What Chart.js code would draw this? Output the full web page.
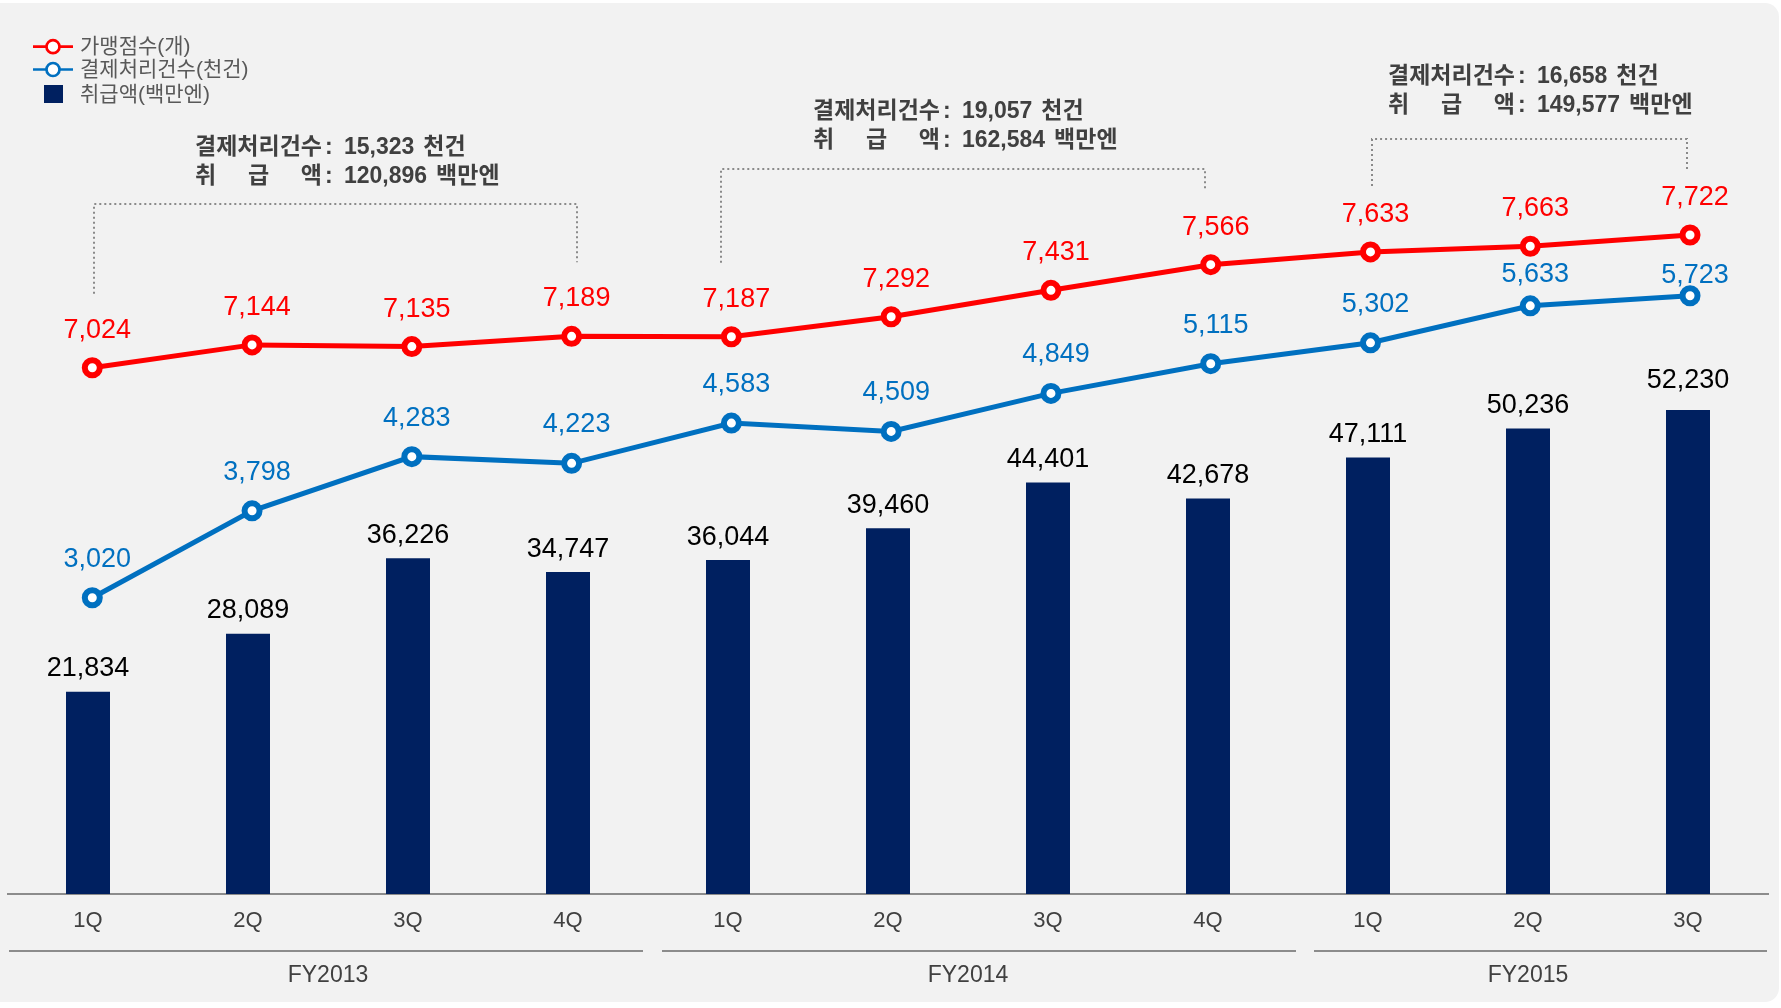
<!DOCTYPE html>
<html><head><meta charset="utf-8">
<script src="https://cdn.jsdelivr.net/npm/chart.js@4.4.1/dist/chart.umd.min.js"></script>
<style>html,body{margin:0;padding:0;background:#fff;}canvas{display:block;}</style>
</head><body>
<canvas id="c" width="1781" height="1008"></canvas>
<script>
// ---- data ----
const categories = ['1Q','2Q','3Q','4Q','1Q','2Q','3Q','4Q','1Q','2Q','3Q'];
const fiscalYears = ['FY2013','FY2014','FY2015'];
const fiscalYearFirst = [0, 4, 8];
const fiscalYearLast = [3, 7, 10];
const amountValues = [21834, 28089, 36226, 34747, 36044, 39460, 44401, 42678, 47111, 50236, 52230];
const merchantValues = [7024, 7144, 7135, 7189, 7187, 7292, 7431, 7566, 7633, 7663, 7722];
const txnValues = [3020, 3798, 4283, 4223, 4583, 4509, 4849, 5115, 5302, 5633, 5723];
const seriesNames = ['가맹점수(개)', '결제처리건수(천건)', '취급액(백만엔)'];
const yearTxnTotals = ['15,323', '19,057', '16,658'];
const yearAmountTotals = ['120,896', '162,584', '149,577'];

// ---- styles / layout ----
const FONT = '"Liberation Sans", "Noto Sans CJK KR", Arial, sans-serif';
const RED = '#ff0000', BLUE = '#0070c0', NAVY = '#002060', GRID = '#8c8c8c';
const annotLayout = [
  {tx:195, ty:148, bx:[6, 9],  top:204, bottomGap:[56, 56]},
  {tx:813, ty:112, bx:[-7,-3], top:169, bottomGap:[56, 58]},
  {tx:1388,ty:77,  bx:[4, -1], top:139, bottomGap:[48, 47]}
];
const groupInset = [[1,-5],[14,8],[26,-1]];
const barLabelLift = [0,0,0,0,0,0,0,0,0,0,7];
const txnLabelDrop = [0,0,0,0,0,0,0,0,0,7,18];
const fmt = v => v.toLocaleString('en-US');
const toXY = arr => arr.map((v,i)=>({x:i, y:v}));

const deco = {
  id:'deco',
  beforeDraw(chart){
    const ctx = chart.ctx; ctx.save();
    ctx.fillStyle = '#fff'; ctx.fillRect(0,0,chart.width,chart.height);
    ctx.fillStyle = '#f2f2f2'; ctx.beginPath();
    ctx.roundRect(-20, 3, chart.width - 2 + 20, chart.height - 9, 14); ctx.fill();
    ctx.restore();
  },
  afterDatasetsDraw(chart){
    const ctx = chart.ctx; ctx.save();
    ctx.font = '27px ' + FONT; ctx.textAlign = 'center'; ctx.textBaseline = 'alphabetic';
    ctx.fillStyle = '#000';
    chart.getDatasetMeta(0).data.forEach((el,i)=>ctx.fillText(fmt(amountValues[i]), el.x, el.y - 15.5 - barLabelLift[i]));
    ctx.fillStyle = RED;
    chart.getDatasetMeta(1).data.forEach((el,i)=>ctx.fillText(fmt(merchantValues[i]), el.x + 5, el.y - 30));
    ctx.fillStyle = BLUE;
    chart.getDatasetMeta(2).data.forEach((el,i)=>ctx.fillText(fmt(txnValues[i]), el.x + 5, el.y - 31 + txnLabelDrop[i]));
    ctx.restore();
  },
  afterDraw(chart){
    const ctx = chart.ctx; const xs = chart.scales.x; const y1 = chart.scales.y1;
    ctx.save();
    // legend
    const legY = [46.7, 69.5, 94];
    [[RED,0],[BLUE,1]].forEach(([c,k])=>{
      ctx.strokeStyle = c; ctx.lineWidth = 2.7;
      ctx.beginPath(); ctx.moveTo(33, legY[k]); ctx.lineTo(73, legY[k]); ctx.stroke();
      ctx.fillStyle = '#fff'; ctx.beginPath(); ctx.arc(53, legY[k], 6.5, 0, Math.PI*2); ctx.fill(); ctx.stroke();
    });
    ctx.fillStyle = NAVY; ctx.fillRect(44, 85, 19, 18);
    ctx.fillStyle = '#595959'; ctx.font = '21px ' + FONT; ctx.textAlign = 'left'; ctx.textBaseline = 'middle';
    seriesNames.forEach((n,k)=>ctx.fillText(n, 80, legY[k] + 1));
    // annotations
    annotLayout.forEach((a,g)=>{
      ctx.font = 'bold 23px ' + FONT; ctx.fillStyle = '#404040'; ctx.textBaseline = 'middle';
      const head = '결제처리건수';
      const w = ctx.measureText(head).width;
      const drawRest = (num, unit, y) => {
        ctx.textAlign = 'left';
        ctx.fillText(':', a.tx + w + 3, y);
        ctx.fillText(num, a.tx + w + 22, y);
        ctx.fillText(unit, a.tx + w + 22 + ctx.measureText(num).width + 9, y);
      };
      ctx.textAlign = 'left';
      ctx.fillText(head, a.tx, a.ty);
      drawRest(yearTxnTotals[g], '천건', a.ty);
      const y2 = a.ty + 28.5;
      ctx.fillText('취', a.tx, y2);
      ctx.textAlign = 'center'; ctx.fillText('급', a.tx + w/2, y2);
      ctx.textAlign = 'right'; ctx.fillText('액', a.tx + w, y2);
      drawRest(yearAmountTotals[g], '백만엔', y2);
      // bracket
      const i0 = fiscalYearFirst[g], i1 = fiscalYearLast[g];
      const xl = xs.getPixelForValue(i0) + a.bx[0], xr = xs.getPixelForValue(i1) + a.bx[1];
      const bl = y1.getPixelForValue(merchantValues[i0]) - a.bottomGap[0] - 18;
      const br = y1.getPixelForValue(merchantValues[i1]) - a.bottomGap[1] - 18;
      ctx.strokeStyle = '#8a8a8a'; ctx.lineWidth = 2; ctx.setLineDash([2,3]);
      ctx.beginPath(); ctx.moveTo(xl, bl); ctx.lineTo(xl, a.top); ctx.lineTo(xr, a.top); ctx.lineTo(xr, br); ctx.stroke();
      ctx.setLineDash([]);
    });
    // fiscal-year groups
    fiscalYears.forEach((fy,g)=>{
      const a = xs.getPixelForValue(fiscalYearFirst[g]), b = xs.getPixelForValue(fiscalYearLast[g]);
      const half = (xs.getPixelForValue(1) - xs.getPixelForValue(0))/2;
      ctx.strokeStyle = GRID; ctx.lineWidth = 2;
      ctx.beginPath(); ctx.moveTo(a - half + groupInset[g][0], 951); ctx.lineTo(b + half + groupInset[g][1], 951); ctx.stroke();
      ctx.fillStyle = '#404040'; ctx.font = '23px ' + FONT; ctx.textAlign = 'center'; ctx.textBaseline = 'middle';
      ctx.fillText(fy, (a+b)/2, 976);
    });
    ctx.restore();
  }
};

new Chart(document.getElementById('c'), {
  data: {
    labels: categories,
    datasets: [
      {type:'bar', label:seriesNames[2], data:amountValues, xAxisID:'x', yAxisID:'y', backgroundColor:NAVY,
       grouped:false, categoryPercentage:1, barPercentage:0.275, order:3},
      {type:'line', label:seriesNames[0], data:toXY(merchantValues), xAxisID:'x2', yAxisID:'y1', borderColor:RED, borderWidth:5,
       pointRadius:7.5, pointBorderWidth:6, pointBackgroundColor:'#fff', pointBorderColor:RED, tension:0, order:1},
      {type:'line', label:seriesNames[1], data:toXY(txnValues), xAxisID:'x2', yAxisID:'y2', borderColor:BLUE, borderWidth:5,
       pointRadius:7.5, pointBorderWidth:6, pointBackgroundColor:'#fff', pointBorderColor:BLUE, tension:0, order:2}
    ]
  },
  options: {
    responsive:false, animation:false, devicePixelRatio:1,
    layout:{autoPadding:false, padding:{top:20, left:8, right:13, bottom:0}},
    plugins:{legend:{display:false}, tooltip:{enabled:false}},
    scales:{
      x:{type:'category', offset:true, grid:{display:false, drawTicks:false},
         border:{display:true, color:GRID, width:2},
         ticks:{color:'#404040', font:{size:22, family:FONT}, padding:14, maxRotation:0, autoSkip:false},
         afterFit(s){ s.height = 114; }},
      x2:{type:'linear', display:false, min:-0.5276, max:10.488},
      y:{display:false, min:0, max:94323},
      y1:{display:false, min:4255.6, max:8853},
      y2:{display:false, min:367.4, max:8192}
    }
  },
  plugins:[deco]
});
</script>
</body></html>
